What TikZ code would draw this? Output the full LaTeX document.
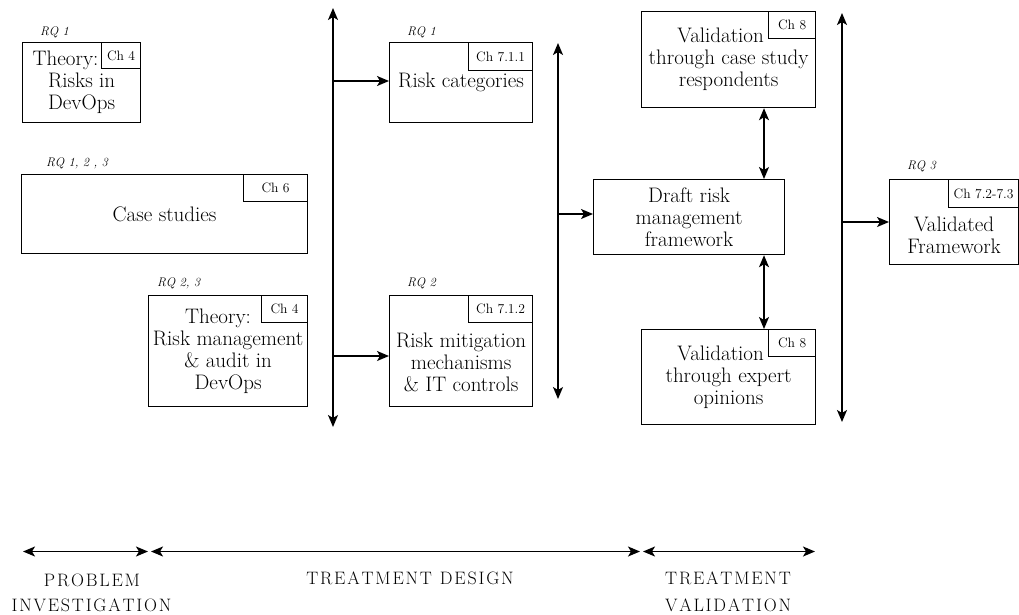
\documentclass[tikz,border=0pt]{standalone}
\usepackage{fontspec}
\usetikzlibrary{arrows.meta}
\makeatletter
% letter-spaced capitals for the phase labels
\newcommand\lsp[1]{\@tfor\lsp@c:=#1\do{\lsp@c\kern1.8pt}\unkern}
\makeatother
\begin{document}
\begin{tikzpicture}[x=1pt, y=-1pt,
  box/.style={draw, line width=1.2pt, inner sep=0pt, anchor=north west},
  txt/.style={align=center, inner sep=0pt, font=\fontsize{21}{22}\selectfont},
  chbox/.style={draw, line width=1.2pt, inner sep=0pt, anchor=north east,
    font=\fontsize{13.6}{15}\selectfont},
  rq/.style={anchor=west, inner sep=0pt, font=\fontsize{12.5}{14}\selectfont\itshape},
  tip/.tip={Stealth[length=12pt, width=10pt, inset=3pt]},
  conn/.style={line width=1.5pt, -tip},
  dconn/.style={line width=1.5pt, tip-tip},
  phase/.style={inner sep=0pt, font=\fontsize{18}{25}\selectfont}
]
\useasboundingbox (0,0) rectangle (1019,614);

% ---------- problem investigation ----------
\node[box, txt, minimum width=118, minimum height=80] (b1) at (22,42)
  {Theory:\hspace*{32pt}\\Risks in\\DevOps};
\node[chbox, minimum width=39, minimum height=26] (c1) at (b1.north east) {Ch 4};
\node[rq] (q1) at (40,32) {RQ 1};

\node[box, txt, minimum width=286, minimum height=79] (b2) at (21,174) {Case studies};
\node[chbox, minimum width=64, minimum height=27] (c2) at (b2.north east) {Ch 6};
\node[rq] (q2) at (46,163) {RQ 1, 2 , 3};

\node[box, txt, minimum width=159, minimum height=111] (b3) at (148,295)
  {Theory:\hspace*{20pt}\\Risk management\\\& audit in\\DevOps};
\node[chbox, minimum width=46, minimum height=27] (c3) at (b3.north east) {Ch 4};
\node[rq] (q3) at (157,283) {RQ 2, 3};

% ---------- treatment design ----------
\node[box, txt, minimum width=143, minimum height=80] (rc) at (389,42) {Risk categories};
\node[chbox, minimum width=64, minimum height=28] (c4) at (rc.north east) {Ch 7.1.1};
\node[rq] (q4) at (407,32) {RQ 1};

\node[box, minimum width=143, minimum height=111] (rm) at (389,295) {};
\node[txt] (rmt) at ([yshift=-11pt]rm.center) {Risk mitigation\\mechanisms\\\& IT controls};
\node[chbox, minimum width=64, minimum height=27] (c5) at (rm.north east) {Ch 7.1.2};
\node[rq] (q5) at (407,283) {RQ 2};

\node[box, txt, minimum width=191, minimum height=75] (draft) at (593,179)
  {Draft risk\\management\\framework};

% ---------- treatment validation ----------
\node[box, txt, minimum width=174, minimum height=96] (vc) at (641,11)
  {Validation\hspace*{16pt}\\through case study\\respondents};
\node[chbox, minimum width=47, minimum height=27] (c6) at (vc.north east) {Ch 8};

\node[box, txt, minimum width=174, minimum height=95] (ve) at (641,329)
  {Validation\hspace*{16pt}\\through expert\\opinions};
\node[chbox, minimum width=47, minimum height=27] (c7) at (ve.north east) {Ch 8};

\node[box, minimum width=129, minimum height=85] (vf) at (889,179) {};
\node[txt] (vft) at ([yshift=-13pt]vf.center) {Validated\\Framework};
\node[chbox, minimum width=70, minimum height=28] (c8) at (vf.north east) {Ch 7.2-7.3};
\node[rq] (q6) at (907,166) {RQ 3};

% ---------- collecting lines ----------
\coordinate (v1t) at (333,8);
\coordinate (v1b) at (333,427);
\coordinate (v1a) at (333,81);
\coordinate (v1c) at (333,356);
\draw[dconn] (v1b) -- (v1t);
\draw[conn] (v1a) -- (v1a -| rc.west);
\draw[conn] (v1c) -- (v1c -| rm.west);

\coordinate (v2t) at (558,43);
\coordinate (v2b) at (558,399);
\coordinate (v2a) at (558,214);
\draw[dconn] (v2b) -- (v2t);
\draw[conn] (v2a) -- (v2a -| draft.west);

\coordinate (dx) at (764,0);
\draw[dconn] (vc.south -| dx) -- (draft.north -| dx);
\draw[dconn] (draft.south -| dx) -- (ve.north -| dx);

\coordinate (v3t) at (842,13);
\coordinate (v3b) at (842,422);
\coordinate (v3a) at (842,222);
\draw[dconn] (v3b) -- (v3t);
\draw[conn] (v3a) -- (v3a -| vf.west);

% ---------- phase bar ----------
\coordinate (p0) at (23,551.5);
\coordinate (p1) at (148,551.5);
\coordinate (p2) at (151,551.5);
\coordinate (p3) at (640,551.5);
\coordinate (p4) at (643,551.5);
\coordinate (p5) at (815,551.5);
\draw[dconn] (p0) -- (p1);
\draw[dconn] (p2) -- (p3);
\draw[dconn] (p4) -- (p5);

\node[phase] (l1a) at (92,580) {\lsp{PROBLEM}};
\node[phase] (l1b) at (91.5,605) {\lsp{INVESTIGATION}};
\node[phase] (l2) at (410,578) {\lsp{TREATMENT}\hspace{8pt}\lsp{DESIGN}};
\node[phase] (l3a) at (728,578) {\lsp{TREATMENT}};
\node[phase] (l3b) at (728,605) {\lsp{VALIDATION}};
\end{tikzpicture}
\end{document}
